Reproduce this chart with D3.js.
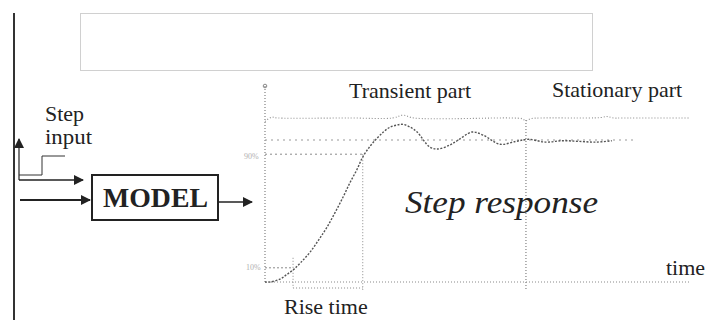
<!DOCTYPE html>
<html>
<head>
<meta charset="utf-8">
<script src="https://cdn.jsdelivr.net/npm/d3@7"></script>
<style>
  body { margin: 0; background: #fff; }
  text { font-family: "Liberation Serif", "DejaVu Serif", serif; fill: #222; }
</style>
</head>
<body>
<svg id="chart" width="707" height="320"></svg>
<script>
// step response samples: time (arbitrary units) and normalised output
var respT = [0, 1.2, 3.5, 5, 6.6, 8.5, 10.6, 12.6, 14.6, 16.5, 18.4, 20, 21.6, 23, 24.7, 26.4, 28, 29.4, 31, 32.5, 34.2, 35.8, 38.8, 40.7, 43.5, 45.5, 48.7, 51.3, 55.3, 59, 62, 66, 70, 74, 78, 81.6];
var respY = [0, 0, 0.02, 0.05, 0.085, 0.14, 0.21, 0.295, 0.387, 0.49, 0.6, 0.7, 0.79, 0.88, 0.955, 1.014, 1.06, 1.09, 1.105, 1.11, 1.09, 1.056, 0.95, 0.937, 0.965, 1.0, 1.056, 1.035, 0.97, 0.99, 1.005, 0.985, 0.995, 0.99, 0.985, 0.995];

// envelope (upper dotted line) with its small glitches
var envT = [0, 1.5, 3, 20, 30, 32.5, 35, 58, 60.5, 61.4, 62.5, 65, 76, 79, 80.5, 82, 84, 100];
var envY = [1.13, 1.16, 1.155, 1.155, 1.155, 1.175, 1.155, 1.155, 1.15, 1.135, 1.15, 1.155, 1.155, 1.158, 1.165, 1.155, 1.155, 1.155];

var levelLow = 0.1, levelHigh = 0.9, levelFinal = 1.0;
var riseStart = 6.6, riseEnd = 23, stationStart = 61.4;
var finalEnd = 87;

var labels = { transient: "Transient part", stationary: "Stationary part", response: "Step response", time: "time", rise: "Rise time", pLow: "10%", pHigh: "90%" };

var svg = d3.select("#chart");
var x = d3.scaleLinear().domain([0, 100]).range([265, 690]);
var y = d3.scaleLinear().domain([0, 1]).range([282, 140]);

var dotted = "1,2";
var grey = "#8a8a8a";

function label(px, py, size, txt, len) {
  var t = svg.append("text").attr("x", px).attr("y", py).attr("font-size", size).text(txt);
  if (len) t.attr("textLength", len).attr("lengthAdjust", "spacingAndGlyphs");
  return t;
}

// empty frame at top
svg.append("rect").attr("x", 80.5).attr("y", 13.5).attr("width", 512).attr("height", 57)
  .attr("fill", "none").attr("stroke", "#d0d0d0");

// left border line
svg.append("line").attr("x1", 14).attr("x2", 14).attr("y1", 13).attr("y2", 320)
  .attr("stroke", "#333").attr("stroke-width", 2);

// arrow marker
svg.append("defs").append("marker").attr("id", "ah").attr("viewBox", "0 0 10 10")
  .attr("refX", 9).attr("refY", 5).attr("markerWidth", 10).attr("markerHeight", 10)
  .attr("markerUnits", "userSpaceOnUse").attr("orient", "auto")
  .append("path").attr("d", "M0,0L10,5L0,10Z").attr("fill", "#222");

// step input sketch
svg.append("path").attr("d", "M19,180V139").attr("stroke", "#222").attr("stroke-width", 1.2)
  .attr("fill", "none").attr("marker-end", "url(#ah)");
svg.append("path").attr("d", "M19,180H83").attr("stroke", "#222").attr("stroke-width", 1.5)
  .attr("fill", "none").attr("marker-end", "url(#ah)");
svg.append("path").attr("d", "M19,175H42V156H65").attr("stroke", "#333").attr("stroke-width", 1)
  .attr("fill", "none");
label(45, 121, 20, "Step", 39);
label(45, 144, 20, "input", 47);

svg.append("path").attr("d", "M20,200H90").attr("stroke", "#222").attr("stroke-width", 2.2)
  .attr("fill", "none").attr("marker-end", "url(#ah)");
svg.append("rect").attr("x", 92).attr("y", 175).attr("width", 126).attr("height", 45)
  .attr("fill", "none").attr("stroke", "#222").attr("stroke-width", 2);
label(103, 207, 28, "MODEL", 105).attr("font-weight", "bold");
svg.append("path").attr("d", "M218,202H252").attr("stroke", "#222").attr("stroke-width", 1.5)
  .attr("fill", "none").attr("marker-end", "url(#ah)");

// axes
var g = svg.append("g");
g.append("line").attr("x1", x(0)).attr("x2", x(0)).attr("y1", 86).attr("y2", y(0) + 1)
  .attr("stroke", grey).attr("stroke-dasharray", dotted).attr("stroke-width", 1.3);
g.append("circle").attr("cx", x(0)).attr("cy", 86).attr("r", 1.8).attr("fill", "none").attr("stroke", grey);
g.append("line").attr("x1", x(0)).attr("x2", x(100)).attr("y1", y(0)).attr("y2", y(0))
  .attr("stroke", grey).attr("stroke-dasharray", dotted).attr("stroke-width", 1.2);

// reference levels
g.append("line").attr("x1", x(0)).attr("x2", x(riseStart)).attr("y1", y(levelLow)).attr("y2", y(levelLow))
  .attr("stroke", grey).attr("stroke-dasharray", "2,2");
g.append("line").attr("x1", x(0)).attr("x2", x(riseEnd)).attr("y1", y(levelHigh)).attr("y2", y(levelHigh))
  .attr("stroke", grey).attr("stroke-dasharray", "2,3");
g.append("line").attr("x1", x(0)).attr("x2", x(finalEnd)).attr("y1", y(levelFinal)).attr("y2", y(levelFinal))
  .attr("stroke", "#999").attr("stroke-dasharray", "2,4");

// rise time and stationary markers
g.append("line").attr("x1", x(riseStart)).attr("x2", x(riseStart)).attr("y1", y(levelLow) - 10).attr("y2", y(0) + 6)
  .attr("stroke", grey).attr("stroke-dasharray", dotted);
g.append("line").attr("x1", x(riseEnd)).attr("x2", x(riseEnd)).attr("y1", y(levelHigh)).attr("y2", y(0) + 8)
  .attr("stroke", grey).attr("stroke-dasharray", dotted);
g.append("line").attr("x1", x(riseStart)).attr("x2", x(riseEnd)).attr("y1", y(0) + 6).attr("y2", y(0) + 6)
  .attr("stroke", grey).attr("stroke-dasharray", dotted);
g.append("line").attr("x1", x(stationStart)).attr("x2", x(stationStart)).attr("y1", y(1.14)).attr("y2", y(0) + 8)
  .attr("stroke", grey).attr("stroke-dasharray", dotted).attr("stroke-width", 1.3);

// envelope
var line = d3.line().x(function(d) { return x(d[0]); }).y(function(d) { return y(d[1]); })
  .curve(d3.curveCatmullRom);
g.append("path").datum(d3.zip(envT, envY)).attr("d", line)
  .attr("fill", "none").attr("stroke", grey).attr("stroke-dasharray", dotted).attr("stroke-width", 1.1);

// response curve
g.append("path").datum(d3.zip(respT, respY)).attr("d", line)
  .attr("fill", "none").attr("stroke", "#555").attr("stroke-dasharray", "2,1.5").attr("stroke-width", 1.4);

// labels
g.append("text").attr("x", 244).attr("y", 159).attr("font-size", 8).style("fill", "#b0b0b0").text(labels.pHigh);
g.append("text").attr("x", 246).attr("y", 270).attr("font-size", 8).style("fill", "#b0b0b0").text(labels.pLow);
label(349, 98, 22, labels.transient);
label(552, 97, 22, labels.stationary);
label(405, 213, 32, labels.response, 193).attr("font-style", "italic");
label(666, 275, 22, labels.time);
label(284, 314, 22, labels.rise);
</script>
</body>
</html>
